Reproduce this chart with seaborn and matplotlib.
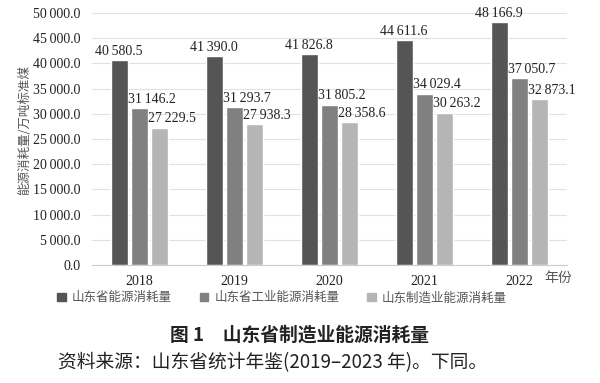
import seaborn as sns
import matplotlib.pyplot as plt
import pandas as pd

# 数据
years = ['2018', '2019', '2020', '2021', '2022']
series = ['山东省能源消耗量', '山东省工业能源消耗量', '山东制造业能源消耗量']
province = [40580.5, 41390.0, 41826.8, 44611.6, 48166.9]
industry = [31146.2, 31293.7, 31805.2, 34029.4, 37050.7]
manufacturing = [27229.5, 27938.3, 28358.6, 30263.2, 32873.1]
colors = ['#555555', '#808080', '#b5b5b5']

df = pd.DataFrame({
    '年份': years * 3,
    '系列': [s for s in series for _ in years],
    '值': province + industry + manufacturing,
})

sns.set_style('white')
plt.rcParams['font.family'] = ['Liberation Serif', 'Noto Sans CJK SC']
plt.rcParams['axes.unicode_minus'] = False

fig = plt.figure(figsize=(6, 3.83), dpi=100)
ax = fig.add_axes([0.153, 0.308, 0.792, 0.658])
sns.barplot(data=df, x='年份', y='值', hue='系列', palette=colors,
            width=0.64, gap=0.16, legend=False, ax=ax)

def fmt(v):
    s = f'{v:,.1f}'
    return s.replace(',', '\u2009')

# 数据标签
for i, cont in enumerate(ax.containers):
    for bar in cont:
        h = bar.get_height()
        if i == 0:
            x, ha = bar.get_x() + bar.get_width() / 2, 'center'
        else:
            x, ha = bar.get_x() - 0.03, 'left'
        ax.text(x, h + 500, fmt(h), ha=ha, va='bottom', fontsize=10,
                color='#222222')

ax.set_ylim(0, 50000)
ticks = list(range(0, 50001, 5000))
ax.set_yticks(ticks)
ax.set_yticklabels([fmt(t) for t in ticks], fontsize=10, color='#222222')
ax.tick_params(axis='x', labelsize=10, colors='#222222', length=0, pad=7)
ax.tick_params(axis='y', length=0, pad=8)
ax.yaxis.grid(True, color='#e2e2e2', linewidth=0.8)
ax.set_axisbelow(True)
for s in ['top', 'right', 'left']:
    ax.spines[s].set_visible(False)
ax.spines['bottom'].set_color('#cccccc')
ax.set_xlabel('')
ax.set_ylabel('')
fig.text(0.042, 0.66, '能源消耗量/万吨标准煤', rotation=90, ha='center',
         va='center', fontsize=9, color='#555555', family=['Noto Sans CJK SC'])
fig.text(0.908, 0.274, '年份', fontsize=10, color='#555555',
         family=['Noto Sans CJK SC'], va='center')

# 图例
handles = [plt.Rectangle((0, 0), 1, 1, color=c) for c in colors]
leg = fig.legend(handles, series, loc='center', ncol=3,
                 bbox_to_anchor=(0.47, 0.222), frameon=False,
                 handlelength=0.7, handleheight=0.7, handletextpad=0.5,
                 columnspacing=2.2, prop={'family': 'Noto Sans CJK SC', 'size': 9})
for t in leg.get_texts():
    t.set_color('#555555')

fig.text(0.5, 0.125, '图 1\u3000山东省制造业能源消耗量', ha='center', va='center',
         fontsize=13.5, fontweight='bold', family=['Noto Sans CJK SC'],
         color='#222222')
fig.text(0.097, 0.052, '资料来源：山东省统计年鉴(2019–2023 年)。下同。',
         ha='left', va='center', fontsize=13.5,
         family=['Noto Sans CJK SC', 'Liberation Serif'], color='#222222')

plt.savefig('out.png', dpi=100)
